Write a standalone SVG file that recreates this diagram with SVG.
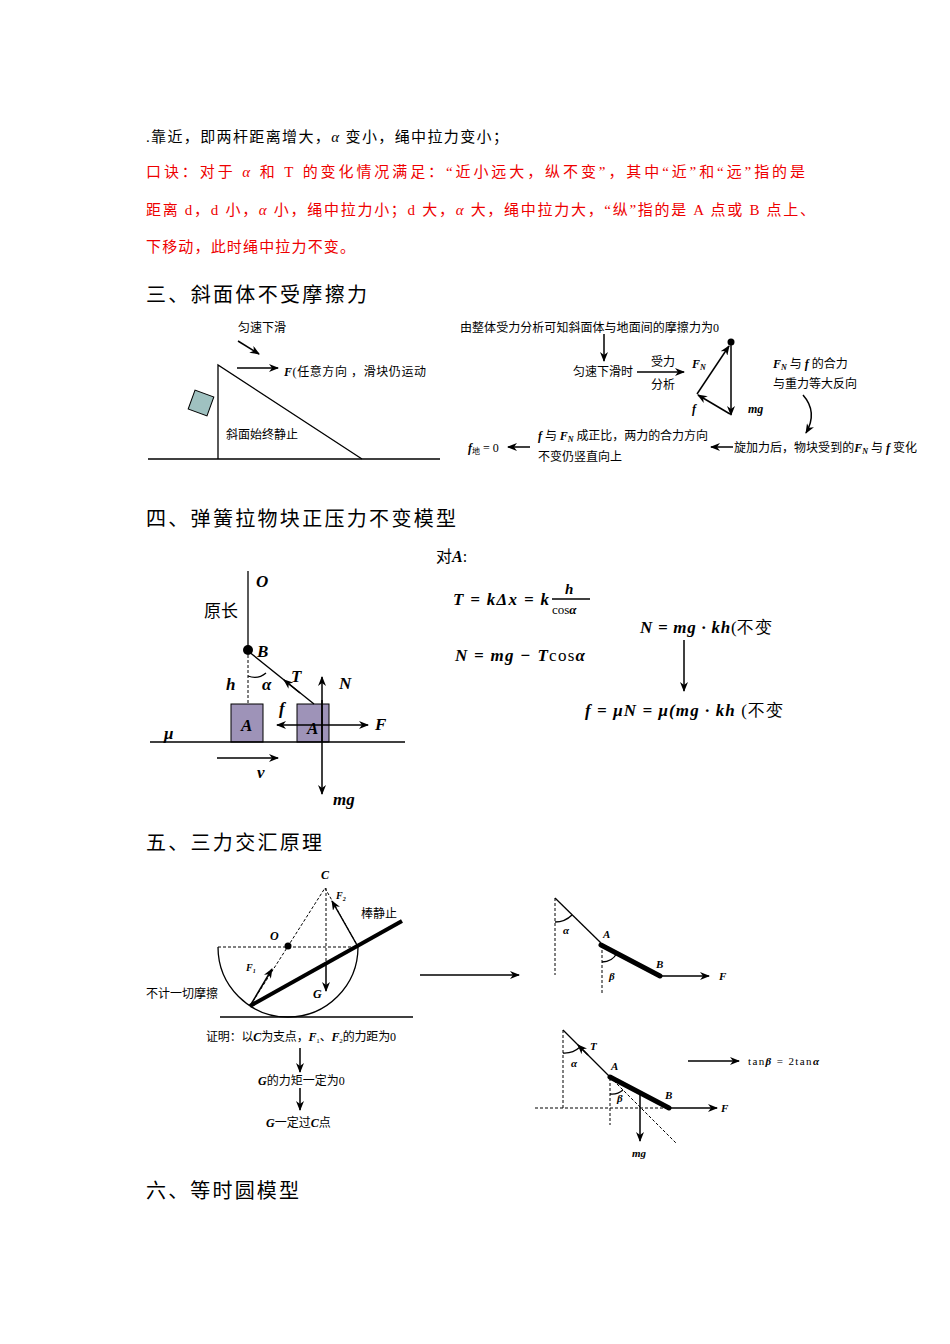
<svg xmlns="http://www.w3.org/2000/svg" width="950" height="1344" viewBox="0 0 950 1344">
<defs>
<marker id="ah" viewBox="0 0 10 8" refX="9" refY="4" markerWidth="10" markerHeight="8" markerUnits="userSpaceOnUse" orient="auto"><path d="M0,0 L10,4 L0,8 L3,4 Z" fill="#000"/></marker>
<style>
text{font-family:"Liberation Serif","Noto Sans CJK SC",serif;fill:#000}
.t{font-size:15px}.r{font-size:15px;fill:#e00}.h{font-size:20px;font-family:"Noto Sans CJK SC",sans-serif}
.s{font-size:12px}.m{font-family:"Liberation Serif",serif;font-style:italic;font-weight:bold}
.ln{stroke:#000;stroke-width:1.3;fill:none}.ar{stroke:#000;stroke-width:1.5;fill:none;marker-end:url(#ah)}
.d{stroke:#000;stroke-width:1;stroke-dasharray:3,2;fill:none}
</style>
</defs>
<rect width="950" height="1344" fill="#fff"/>
<g id="text">
<text class="t" x="146" y="142" textLength="362" lengthAdjust="spacing">.靠近，即两杆距离增大，<tspan font-style="italic">α</tspan> 变小，绳中拉力变小；</text>
<text class="r" x="146" y="177" textLength="659" lengthAdjust="spacing">口诀：对于 <tspan font-style="italic">α</tspan> 和 T 的变化情况满足：“近小远大，纵不变”，其中“近”和“远”指的是</text>
<text class="r" x="146" y="215" textLength="669" lengthAdjust="spacing">距离 d，d 小，<tspan font-style="italic">α</tspan> 小，绳中拉力小；d 大，<tspan font-style="italic">α</tspan> 大，绳中拉力大，“纵”指的是 A 点或 B 点上、</text>
<text class="r" x="146" y="252" textLength="209" lengthAdjust="spacing">下移动，此时绳中拉力不变。</text>
<text class="h" x="146" y="302" textLength="221" lengthAdjust="spacing">三、斜面体不受摩擦力</text>
<text class="h" x="146" y="526" textLength="310" lengthAdjust="spacing">四、弹簧拉物块正压力不变模型</text>
<text class="h" x="146" y="850" textLength="176" lengthAdjust="spacing">五、三力交汇原理</text>
<text class="h" x="146" y="1198" textLength="153" lengthAdjust="spacing">六、等时圆模型</text>
</g>
<g id="incline">
<line class="ln" x1="148" y1="459" x2="440" y2="459"/>
<path class="ln" d="M218,459 V365 L362,459"/>
<rect x="191" y="393" width="20" height="20" fill="#9fc1c0" stroke="#000" transform="rotate(20 201 403)"/>
<line class="ar" x1="238" y1="341" x2="259" y2="354"/>
<line class="ar" x1="237" y1="368" x2="278" y2="368"/>
<text class="s" x="238" y="332">匀速下滑</text>
<text class="s" x="284" y="376" textLength="142" lengthAdjust="spacing"><tspan class="m">F</tspan>(任意方向 ，滑块仍运动</text>
<text class="s" x="226" y="439">斜面始终静止</text>
</g>
<g id="analysis">
<text class="s" x="460" y="332" textLength="259" lengthAdjust="spacing">由整体受力分析可知斜面体与地面间的摩擦力为0</text>
<line class="ar" x1="604" y1="334" x2="604" y2="361"/>
<text class="s" x="573" y="376">匀速下滑时</text>
<line class="ar" x1="637" y1="372" x2="684" y2="372"/>
<text class="s" x="651" y="366">受力</text>
<text class="s" x="651" y="389">分析</text>
<circle cx="731" cy="342" r="3.5"/>
<line class="ar" x1="731" y1="342" x2="731" y2="415"/>
<line class="ar" x1="697" y1="394" x2="729" y2="346"/>
<line class="ar" x1="730" y1="414" x2="698" y2="395"/>
<text class="s m" x="692" y="368">F<tspan font-size="8" dy="2">N</tspan></text>
<text class="s m" x="692" y="413">f</text>
<text class="s m" x="748" y="413">mg</text>
<text class="s" x="773" y="368"><tspan class="m">F<tspan font-size="8" dy="2">N</tspan></tspan><tspan dy="-2"> 与 </tspan><tspan class="m">f</tspan> 的合力</text>
<text class="s" x="773" y="388">与重力等大反向</text>
<path class="ar" d="M803,395 Q818,412 806,433"/>
<text class="s" x="734" y="452" textLength="183" lengthAdjust="spacing">旋加力后，物块受到的<tspan class="m">F<tspan font-size="8" dy="2">N</tspan></tspan><tspan dy="-2"> 与 </tspan><tspan class="m">f</tspan> 变化</text>
<line class="ar" x1="733" y1="447" x2="711" y2="447"/>
<text class="s" x="538" y="440" textLength="170" lengthAdjust="spacing"><tspan class="m">f</tspan> 与 <tspan class="m">F<tspan font-size="8" dy="2">N</tspan></tspan><tspan dy="-2"> 成正比，两力的合力方向</tspan></text>
<text class="s" x="538" y="461">不变仍竖直向上</text>
<line class="ar" x1="530" y1="447" x2="508" y2="447"/>
<text class="s" x="468" y="452"><tspan class="m">f</tspan><tspan font-size="8" dy="2">地</tspan><tspan dy="-2"> = 0</tspan></text>
</g>
<g id="spring">
<line class="ln" x1="248" y1="571" x2="248" y2="650"/>
<circle cx="248" cy="650" r="5"/>
<line class="d" x1="248" y1="655" x2="248" y2="704"/>
<rect x="231" y="704" width="32" height="38" fill="#9e93b8" stroke="#000"/>
<rect x="297" y="704" width="32" height="38" fill="#9e93b8" stroke="#000"/>
<line class="ln" x1="150" y1="742" x2="405" y2="742"/>
<line class="ln" x1="314" y1="704" x2="248" y2="651"/>
<line class="ar" x1="300" y1="693" x2="284" y2="680"/>
<path class="ln" d="M248,676 A18,18 0 0 0 266,673"/>
<line class="ar" x1="322" y1="742" x2="322" y2="677"/>
<line class="ar" x1="322" y1="700" x2="322" y2="794"/>
<line class="ar" x1="299" y1="725" x2="277" y2="725"/>
<line class="ar" x1="299" y1="725" x2="368" y2="725"/>
<line class="ar" x1="217" y1="758" x2="278" y2="758"/>
<text class="m" font-size="17" x="256" y="587">O</text>
<text font-size="17" x="204" y="617">原长</text>
<text class="m" font-size="17" x="257" y="657">B</text>
<text class="m" font-size="17" x="226" y="690">h</text>
<text class="m" font-size="17" x="262" y="690">α</text>
<text class="m" font-size="17" x="291" y="682">T</text>
<text class="m" font-size="17" x="339" y="689">N</text>
<text class="m" font-size="17" x="279" y="714">f</text>
<text class="m" font-size="17" x="375" y="730">F</text>
<text class="m" font-size="17" x="241" y="731">A</text>
<text class="m" font-size="17" x="307" y="734">A</text>
<text class="m" font-size="17" x="164" y="739">μ</text>
<text class="m" font-size="17" x="257" y="778">v</text>
<text class="m" font-size="17" x="333" y="805">mg</text>
</g>
<g id="equations">
<text font-size="16" x="436" y="562">对<tspan class="m">A</tspan>:</text>
<text class="m" font-size="17" x="453" y="605" textLength="96" lengthAdjust="spacing">T = kΔx = k</text>
<text class="m" font-size="15" x="565" y="594">h</text>
<line class="ln" x1="552" y1="599" x2="590" y2="599"/>
<text font-size="13" x="552" y="614">cos<tspan class="m">α</tspan></text>
<text class="m" font-size="17" x="455" y="661" textLength="130" lengthAdjust="spacing">N = mg − T<tspan font-style="normal" font-weight="normal">cos</tspan>α</text>
<text class="m" font-size="17" x="640" y="633" textLength="132" lengthAdjust="spacing">N = mg · kh<tspan font-style="normal" font-weight="normal">(不变</tspan></text>
<line class="ar" x1="684" y1="640" x2="684" y2="691"/>
<text class="m" font-size="17" x="585" y="716" textLength="198" lengthAdjust="spacing">f = μN = μ(mg · kh <tspan font-style="normal" font-weight="normal">(不变</tspan></text>
</g>
<g id="bowl">
<path class="ln" d="M218,947 A70,70 0 0 0 358,947"/>
<line class="d" x1="218" y1="947" x2="358" y2="947"/>
<line class="ln" x1="220" y1="1017" x2="413" y2="1017"/>
<line x1="250" y1="1006" x2="402" y2="921" stroke="#000" stroke-width="4"/>
<line class="d" x1="250" y1="1006" x2="325" y2="888"/>
<line class="d" x1="325" y1="888" x2="357" y2="945"/>
<line class="d" x1="326" y1="888" x2="326" y2="962"/>
<circle cx="288" cy="946" r="3.5"/>
<line class="ar" x1="326" y1="962" x2="326" y2="991"/>
<line class="ar" x1="250" y1="1006" x2="272" y2="969"/>
<line class="ar" x1="357" y1="945" x2="332" y2="901"/>
<text class="m s" x="321" y="879">C</text>
<text class="m s" x="270" y="940">O</text>
<text class="m" font-size="10" x="246" y="971">F<tspan font-size="6" dy="2">1</tspan></text>
<text class="m" font-size="10" x="336" y="899">F<tspan font-size="6" dy="2">2</tspan></text>
<text class="m s" x="313" y="998">G</text>
<text class="s" x="361" y="918">棒静止</text>
<text class="s" x="146" y="998">不计一切摩擦</text>
<text class="s" x="206" y="1041" textLength="190" lengthAdjust="spacing">证明：以<tspan class="m">C</tspan>为支点，<tspan class="m">F</tspan><tspan font-size="7" dy="2">1</tspan><tspan dy="-2">、</tspan><tspan class="m">F</tspan><tspan font-size="7" dy="2">2</tspan><tspan dy="-2">的力距为0</tspan></text>
<line class="ar" x1="300" y1="1048" x2="300" y2="1072"/>
<text class="s" x="258" y="1085"><tspan class="m">G</tspan>的力矩一定为0</text>
<line class="ar" x1="300" y1="1088" x2="300" y2="1110"/>
<text class="s" x="266" y="1127"><tspan class="m">G</tspan>一定过<tspan class="m">C</tspan>点</text>
</g>
<g id="connector">
<line class="ar" x1="420" y1="975" x2="519" y2="975"/>
<line class="ar" x1="688" y1="1061" x2="739" y2="1061"/>
</g>
<g id="rod1">
<line class="ln" x1="555" y1="898" x2="601" y2="943"/>
<line class="d" x1="555" y1="898" x2="555" y2="975"/>
<path class="ln" d="M555,922 A24,24 0 0 0 572,915"/>
<line x1="601" y1="945" x2="660" y2="976" stroke="#000" stroke-width="5" stroke-linecap="round"/>
<line class="d" x1="602" y1="945" x2="602" y2="993"/>
<path class="ln" d="M602,962 A17,17 0 0 0 617,953"/>
<line class="ar" x1="660" y1="976" x2="709" y2="976"/>
<text class="m" font-size="11" x="563" y="934">α</text>
<text class="m" font-size="11" x="603" y="938">A</text>
<text class="m" font-size="11" x="609" y="980">β</text>
<text class="m" font-size="11" x="656" y="968">B</text>
<text class="m" font-size="11" x="719" y="980">F</text>
</g>
<g id="rod2">
<line class="ln" x1="563" y1="1030" x2="610" y2="1077"/>
<line class="ar" x1="588" y1="1055" x2="578" y2="1045"/>
<line class="d" x1="563" y1="1030" x2="563" y2="1108"/>
<line class="d" x1="535" y1="1108" x2="670" y2="1108"/>
<path class="ln" d="M563,1053 A23,23 0 0 0 580,1047"/>
<line x1="610" y1="1077" x2="669" y2="1108" stroke="#000" stroke-width="5" stroke-linecap="round"/>
<line class="d" x1="610" y1="1078" x2="610" y2="1125"/>
<line class="d" x1="610" y1="1077" x2="676" y2="1143"/>
<path class="ln" d="M610,1094 A17,17 0 0 0 623,1090"/>
<line class="ar" x1="640" y1="1093" x2="640" y2="1141"/>
<line class="ar" x1="669" y1="1108" x2="717" y2="1108"/>
<text class="m" font-size="11" x="590" y="1050">T</text>
<text class="m" font-size="11" x="571" y="1067">α</text>
<text class="m" font-size="11" x="611" y="1070">A</text>
<text class="m" font-size="11" x="617" y="1102">β</text>
<text class="m" font-size="11" x="665" y="1099">B</text>
<text class="m" font-size="11" x="721" y="1112">F</text>
<text class="m" font-size="11" x="632" y="1157">mg</text>
<text font-size="11" x="748" y="1065" textLength="71" lengthAdjust="spacing">tan<tspan class="m">β</tspan> = 2tan<tspan class="m">α</tspan></text>
</g>
</svg>
